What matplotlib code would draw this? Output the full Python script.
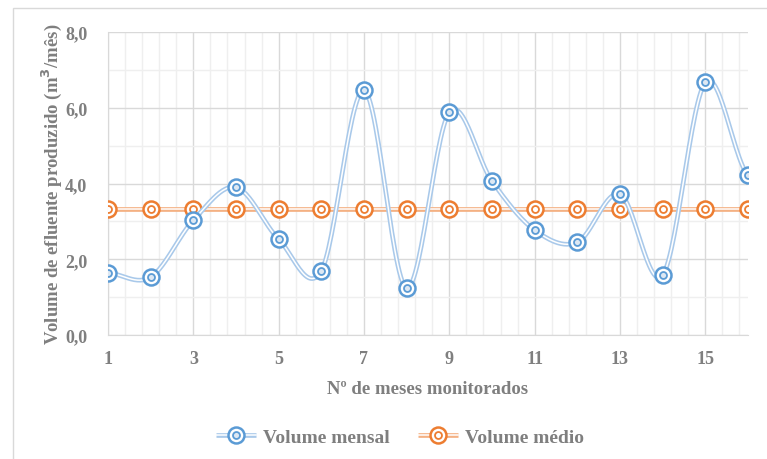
import matplotlib
matplotlib.use('Agg')
import matplotlib.pyplot as plt
import numpy as np
from matplotlib.ticker import FixedLocator, FuncFormatter
from matplotlib.patches import Rectangle
from matplotlib.legend_handler import HandlerTuple

plt.rcParams['font.family'] = ['Liberation Serif', 'DejaVu Serif']
plt.rcParams['font.weight'] = 'bold'
plt.rcParams['mathtext.default'] = 'bf'

meses = list(range(1, 17))
volume_mensal = [1.64, 1.53, 3.03, 3.90, 2.53, 1.69, 6.46, 1.24,
                 5.88, 4.06, 2.77, 2.45, 3.72, 1.58, 6.67, 4.22]
volume_medio = [3.34] * 16

blue = '#5B9BD5'
blue_line = '#A9C9EA'
orange = '#ED7D31'
orange_line = '#F4B183'
txt = '#7F7F7F'


def smooth(x, y, n=30):
    # excel-like smoothed line (catmull-rom)
    x = np.asarray(x, float)
    y = np.asarray(y, float)
    px = np.concatenate([[2 * x[0] - x[1]], x, [2 * x[-1] - x[-2]]])
    py = np.concatenate([[y[0]], y, [y[-1]]])
    xs, ys = [], []
    t = np.linspace(0, 1, n)
    for i in range(1, len(px) - 2):
        for p, out in ((px, xs), (py, ys)):
            p0, p1, p2, p3 = p[i - 1], p[i], p[i + 1], p[i + 2]
            out.extend(0.5 * ((2 * p1) + (-p0 + p2) * t +
                              (2 * p0 - 5 * p1 + 4 * p2 - p3) * t ** 2 +
                              (-p0 + 3 * p1 - 3 * p2 + p3) * t ** 3))
    return np.array(xs), np.array(ys)


fig = plt.figure(figsize=(7.67, 4.6), dpi=100)
ax = fig.add_axes([0.1408, 0.2696, 0.8344, 0.6584])

# chart frame (display coords, origin bottom-left)
fig.patches.append(Rectangle((13, -50), 800, 501, transform=None,
                             fill=False, edgecolor='#D9D9D9', lw=1))


def serie(x, y, line_c, mark_c, label, z):
    sx, sy = smooth(x, y)
    l1, = ax.plot(sx, sy, color=line_c, lw=3.4, zorder=z, solid_capstyle='butt')
    l2, = ax.plot(sx, sy, color='white', lw=1.1, zorder=z + 0.1)
    m1, = ax.plot(x, y, ls='none', marker='o', ms=11.5, mew=1.8,
                  mec=mark_c, mfc='white', zorder=z + 0.2)
    m2, = ax.plot(x, y, ls='none', marker='o', ms=5, mew=1.3,
                  mec=mark_c, mfc='#DDE8F3' if mark_c == blue else 'white',
                  zorder=z + 0.3)
    return (l1, l2, m1, m2), label


h_med = serie(meses, volume_medio, orange_line, orange, 'Volume médio', 3)
h_men = serie(meses, volume_mensal, blue_line, blue, 'Volume mensal', 4)

ax.set_xlim(1, 16)
ax.set_ylim(0, 8)
ax.xaxis.set_major_locator(FixedLocator(np.arange(1, 16, 2)))
ax.xaxis.set_minor_locator(FixedLocator(np.arange(1, 16.01, 0.4)))
ax.yaxis.set_major_locator(FixedLocator(np.arange(0, 8.1, 2)))
ax.yaxis.set_minor_locator(FixedLocator(np.arange(0, 8.1, 1)))
ax.yaxis.set_major_formatter(FuncFormatter(lambda v, p: f'{v:.1f}'.replace('.', ',')))

ax.grid(which='major', color='#D9D9D9', lw=1)
ax.grid(which='minor', color='#EFEFEF', lw=1)
ax.set_axisbelow(True)
ax.tick_params(which='both', length=0, colors=txt, labelsize=13)
ax.tick_params(axis='x', pad=11)
ax.tick_params(axis='y', pad=15)
for s in ['top', 'right']:
    ax.spines[s].set_visible(False)
for s in ['left', 'bottom']:
    ax.spines[s].set_color('#D9D9D9')

ax.set_xlabel('Nº de meses monitorados', color=txt, fontsize=13.5,
              fontweight='bold', labelpad=9)
ax.set_ylabel('Volume de efluente produzido (m$^3$/mês)', color=txt,
              fontsize=13.5, fontweight='bold', labelpad=1)

leg = fig.legend([h_men[0], h_med[0]], [h_men[1], h_med[1]],
                 handler_map={tuple: HandlerTuple(ndivide=1, pad=0)},
                 loc='center', bbox_to_anchor=(0.5215, 0.048), ncol=2,
                 frameon=False, fontsize=14, handlelength=2.06,
                 handletextpad=0.36, columnspacing=1.45, labelcolor=txt,
                 numpoints=1)

fig.savefig('out.png', dpi=100)
